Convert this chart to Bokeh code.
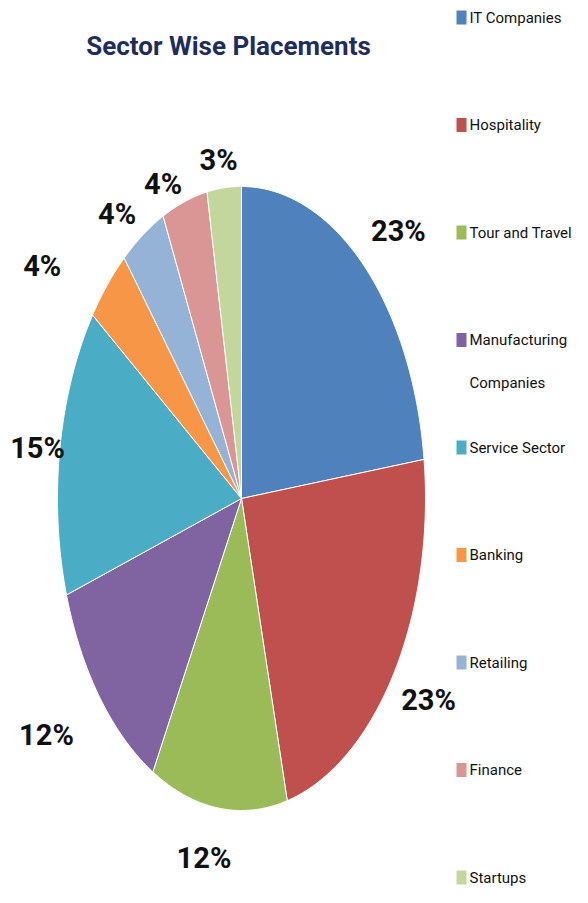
import numpy as np
from bokeh.plotting import figure
from bokeh.models import Range1d
from bokeh.core.properties import value
from bokeh.embed import file_html
from bokeh.resources import INLINE

# ---- data ----
categories = ["IT Companies", "Hospitality", "Tour and Travel", "Manufacturing Companies",
              "Service Sector", "Banking", "Retailing", "Finance", "Startups"]
shares = [23, 23, 12, 12, 15, 4, 4, 4, 3]
legend_labels = ["IT Companies", "Hospitality", "Tour and Travel", "Manufacturing\nCompanies",
                 "Service Sector", "Banking", "Retailing", "Finance", "Startups"]
title_text = "Sector Wise Placements"

# ---- style ----
colors = ["#4F81BD", "#C0504D", "#9BBB59", "#8064A2", "#4BACC6",
          "#F79646", "#95B3D7", "#D99694", "#C3D69B"]
FONT = "Roboto"
W, H = 572, 887
cx, cy, rx, ry = 241, 498, 184, 312
label_r = 1.15
label_nudge_x = [17, 12, -11, -32, 5, -45, -11, -13, -3]
label_nudge_y = [2, 0, 4, 8, 6, 13, 18, 27, 19]

p = figure(width=W, height=H, output_backend="svg", toolbar_location=None,
           x_range=Range1d(0, W), y_range=Range1d(H, 0), min_border=0)
p.axis.visible = False
p.xgrid.visible = False
p.ygrid.visible = False
p.outline_line_color = None
p.background_fill_color = "white"

total = float(sum(shares))
fr = np.cumsum([0] + shares) / total
xs, ys, lx, ly, ltxt = [], [], [], [], []
for i, v in enumerate(shares):
    t0 = np.pi / 2 - 2 * np.pi * fr[i]
    t1 = np.pi / 2 - 2 * np.pi * fr[i + 1]
    t = np.linspace(t0, t1, 80)
    xs.append(list(np.concatenate([[cx], cx + rx * np.cos(t)])))
    ys.append(list(np.concatenate([[cy], cy - ry * np.sin(t)])))
    tm = (t0 + t1) / 2
    lx.append(cx + label_r * rx * np.cos(tm) + label_nudge_x[i])
    ly.append(cy - label_r * ry * np.sin(tm) + label_nudge_y[i])
    ltxt.append(f"{round(v / total * 100)}%")

p.patches(xs, ys, fill_color=colors, line_color="white", line_width=1)

p.text(x=lx, y=ly, text=ltxt, text_font=value(FONT), text_font_size="29px",
       text_font_style="bold", text_color="#111111", text_align="center",
       text_baseline="middle")

# title
p.text(x=[228], y=[45], text=[title_text], text_font=value(FONT), text_font_size="26px",
       text_font_style="bold", text_color="#1F2D5C", text_align="center",
       text_baseline="middle")

# legend
leg_y = [17 + 107.5 * i for i in range(len(categories))]
p.rect(x=[461] * len(categories), y=leg_y, width=10, height=14, fill_color=colors,
       line_color=None)
p.text(x=[469] * len(categories), y=[y - 9 for y in leg_y], text=legend_labels,
       text_font=value(FONT), text_font_size="15px", text_color="#111111",
       text_align="left", text_baseline="top", text_line_height=2.4)

open("out.html", "w").write(file_html(p, INLINE))
